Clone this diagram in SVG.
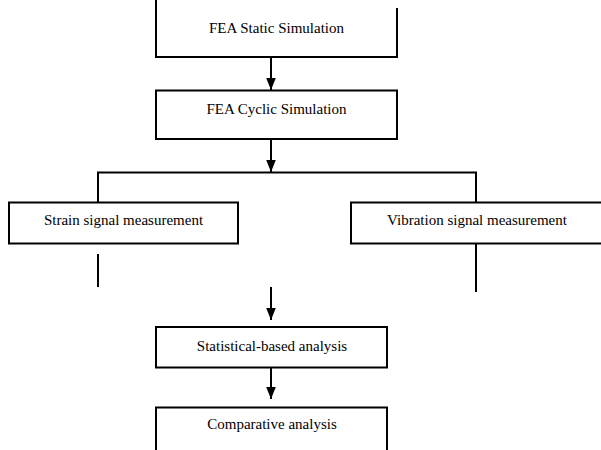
<svg xmlns="http://www.w3.org/2000/svg" width="601" height="450" viewBox="0 0 601 450">
<style>
.box{fill:#fff;stroke:#000;stroke-width:2}
.edge{fill:none;stroke:#000;stroke-width:2}
.lbl{font-family:'Liberation Serif', 'Times New Roman', Times, serif;font-size:15px;fill:#000;text-anchor:middle}
</style>
<defs>
<marker id="ah" markerUnits="userSpaceOnUse" markerWidth="12" markerHeight="10" refX="10" refY="4" orient="auto" viewBox="0 0 10 8">
<path d="M0,0 L10,4 L0,8 Z" fill="#000"/>
</marker>
</defs>
<rect width="601" height="450" fill="#fff"/>
<g id="connectors">
<line class="edge" x1="271" y1="57" x2="271" y2="90" marker-end="url(#ah)"/>
<line class="edge" x1="271" y1="139" x2="271" y2="172" marker-end="url(#ah)"/>
<polyline class="edge" points="98,202 98,172.5 476,172.5 476,202"/>
<line class="edge" x1="98" y1="254" x2="98" y2="287"/>
<line class="edge" x1="476" y1="243" x2="476" y2="292"/>
<line class="edge" x1="271" y1="287" x2="271" y2="320" marker-end="url(#ah)"/>
<line class="edge" x1="271" y1="367" x2="271" y2="399" marker-end="url(#ah)"/>
</g>
<g id="n1">
<path class="box" d="M156,0 L156,57 L397,57 L397,8"/>
<text class="lbl" x="276.5" y="33" font-family="Liberation Serif, serif">FEA Static Simulation</text>
</g>
<g id="n2">
<rect class="box" x="156" y="90.5" width="241" height="48.5"/>
<text class="lbl" x="276.5" y="113.5" font-family="Liberation Serif, serif">FEA Cyclic Simulation</text>
</g>
<g id="n3">
<rect class="box" x="9" y="202.5" width="229" height="41"/>
<text class="lbl" x="123.5" y="224.5" font-family="Liberation Serif, serif">Strain signal measurement</text>
</g>
<g id="n4">
<rect class="box" x="351" y="202.5" width="260" height="41"/>
<text class="lbl" x="477" y="224.5" font-family="Liberation Serif, serif">Vibration signal measurement</text>
</g>
<g id="n5">
<rect class="box" x="156" y="327" width="231" height="40.5"/>
<text class="lbl" x="272" y="351" font-family="Liberation Serif, serif">Statistical-based analysis</text>
</g>
<g id="n6">
<path class="box" d="M156,452 L156,407.5 L387,407.5 L387,452"/>
<text class="lbl" x="272" y="428.5" font-family="Liberation Serif, serif">Comparative analysis</text>
</g>
</svg>
